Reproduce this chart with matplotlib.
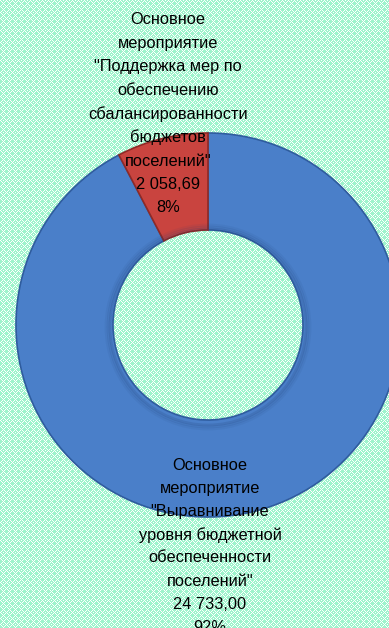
import numpy as np
import matplotlib
matplotlib.use("Agg")
import matplotlib.pyplot as plt
from matplotlib.patches import Circle

# data
categories = [
    'Основное мероприятие "Выравнивание уровня бюджетной обеспеченности поселений"',
    'Основное мероприятие "Поддержка мер по обеспечению сбалансированности бюджетов поселений"',
]
values = [24733.00, 2058.69]
value_labels = ["24 733,00", "2 058,69"]
percent_labels = ["92%", "8%"]
label_lines = [
    ["Основное", "мероприятие", '"Выравнивание', "уровня бюджетной",
     "обеспеченности", 'поселений"'],
    ["Основное", "мероприятие", '"Поддержка мер по', "обеспечению",
     "сбалансированности", "бюджетов", 'поселений"'],
]
colors = ["#4A7FC9", "#C9443F"]
edge_colors = ["#2F5C9E", "#8E2A27"]

W, H = 389, 628
fig = plt.figure(figsize=(W / 100, H / 100), dpi=100)
ax = fig.add_axes([0, 0, 1, 1])

# patterned mint background
yy, xx = np.mgrid[0:H, 0:W]
bg = np.ones((H, W, 3))
mint = np.array([0.62, 0.96, 0.80])
lattice = ((xx + yy) % 6 == 0) | ((xx - yy) % 6 == 0)
bg[~lattice] = mint
bg[((xx % 6) == 3) & ((yy % 6) == 0)] = 1.0
ax.imshow(bg, extent=(0, W, 0, H), interpolation="nearest", zorder=0)

cx, cy = 208, H - 325
r_out, r_in = 192, 95
wedges, _ = ax.pie(values, colors=colors, startangle=90, counterclock=False,
                   radius=r_out, center=(cx, cy),
                   wedgeprops=dict(width=r_out - r_in, linewidth=1.2))
for w, ec in zip(wedges, edge_colors):
    w.set_edgecolor(ec)
    w.set_zorder(2)

# soft bevel shading on the inner edge of the ring
for k, a in enumerate([0.18, 0.12, 0.07]):
    ax.add_patch(Circle((cx, cy - 2), r_in + 3 + 2 * k, fill=False,
                        edgecolor="#1F3F73", lw=2, alpha=a, zorder=3))

ax.set_xlim(0, W)
ax.set_ylim(0, H)
ax.set_aspect("equal")
ax.axis("off")

font = dict(family=["Liberation Sans", "DejaVu Sans"], fontsize=11.8, color="black")

# data labels (each line placed separately)
anchors = [(210, 465, 23.2), (168, 20, 23.5)]
for i, (x0, y0, step) in enumerate(anchors):
    lines = label_lines[i] + [value_labels[i], percent_labels[i]]
    for k, line in enumerate(lines):
        ax.text(x0, H - (y0 + k * step), line, ha="center", va="center",
                zorder=5, **font)

fig.savefig("out.png", dpi=100)
